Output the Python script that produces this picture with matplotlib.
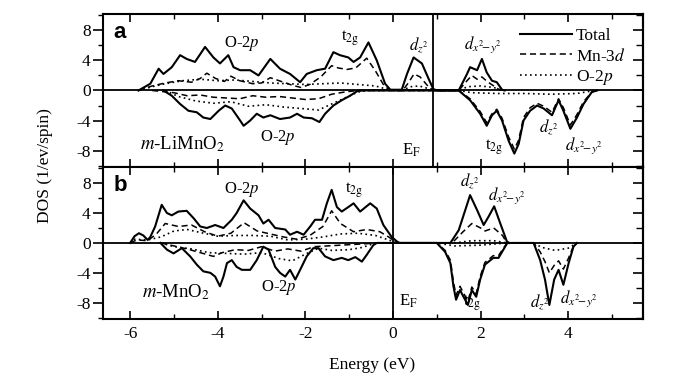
import numpy as np
import matplotlib
matplotlib.use('Agg')
import matplotlib.pyplot as plt
from matplotlib.ticker import MultipleLocator

# (energy eV, DOS) pairs, spin up / spin down
a_total_up = [(-5.81,0),(-5.54,0.9),(-5.35,2.9),(-5.24,2.2),(-5.05,3.1),(-4.86,4.7),(-4.71,4.2),(-4.52,3.8),
              (-4.29,5.8),(-4.10,4.4),(-3.95,3.6),(-3.76,4.7),(-3.64,3.1),(-3.49,2.7),(-3.26,2.7),(-3.07,2.0),
              (-2.80,4.2),(-2.58,2.9),(-2.35,2.2),(-2.12,1.1),(-1.97,2.2),(-1.74,2.7),(-1.55,2.9),(-1.36,5.1),
              (-1.21,4.7),(-1.02,4.4),(-0.90,3.8),(-0.75,4.4),(-0.56,6.4),(-0.37,4.0),(-0.18,0.9),(-0.06,0.1),
              (0.20,0.1),(0.32,2.2),(0.47,4.4),(0.66,3.6),(0.81,1.6),(0.92,0.2),(1.0,0),(1.50,0),(1.69,2.2),
              (1.76,3.1),(1.92,2.7),(2.03,4.2),(2.14,2.4),(2.26,1.3),(2.37,1.1),(2.49,0.1),(2.55,0)]
a_total_dn = [(-5.24,0),(-5.05,-0.7),(-4.86,-1.8),(-4.67,-2.7),(-4.48,-2.9),(-4.33,-3.6),(-4.17,-3.8),
              (-3.98,-2.7),(-3.83,-2.0),(-3.68,-2.4),(-3.49,-4.0),(-3.41,-4.7),(-3.26,-4.0),(-3.11,-3.1),
              (-2.96,-3.6),(-2.80,-3.3),(-2.58,-3.8),(-2.35,-3.6),(-2.19,-3.1),(-2.04,-3.6),(-1.85,-3.7),
              (-1.68,-4.2),(-1.55,-3.1),(-1.36,-2.0),(-1.17,-1.3),(-0.98,-0.7),(-0.82,-0.1),(-0.7,0),
              (1.50,0),(1.76,-1.3),(1.99,-3.1),(2.14,-4.7),(2.26,-3.3),(2.37,-2.7),(2.49,-4.0),(2.64,-6.7),
              (2.77,-8.4),(2.87,-7.1),(2.98,-4.0),(3.13,-2.7),(3.29,-2.0),(3.44,-2.4),(3.63,-3.3),(3.78,-1.3),
              (3.89,-2.7),(4.05,-5.1),(4.20,-3.6),(4.35,-1.8),(4.54,-0.2),(4.66,0)]
a_mn_up = [(-5.81,0),(-5.5,0.6),(-5.2,1.0),(-4.9,1.3),(-4.6,1.1),(-4.4,1.6),(-4.25,2.3),(-4.05,1.6),(-3.85,1.2),
           (-3.7,1.9),(-3.5,1.3),(-3.2,0.9),(-3.0,1.0),(-2.8,1.7),(-2.6,1.3),(-2.3,0.7),(-2.1,0.4),(-1.9,0.8),
           (-1.65,1.8),(-1.4,3.3),(-1.25,3.0),(-1.05,2.8),(-0.85,3.0),(-0.6,4.3),(-0.4,2.6),(-0.2,0.6),
           (-0.05,0),(0.22,0),(0.35,1.0),(0.48,2.2),(0.62,1.8),(0.78,0.7),(0.92,0),(1.5,0),(1.69,1.3),
           (1.8,2.0),(1.92,1.5),(2.03,1.8),(2.15,1.2),(2.3,0.6),(2.45,0)]
a_mn_dn = [(-5.5,0),(-5.0,-0.3),(-4.7,-0.7),(-4.4,-0.6),(-4.1,-0.9),(-3.8,-1.0),(-3.5,-1.1),(-3.2,-0.7),
           (-2.9,-0.9),(-2.6,-0.8),(-2.3,-1.0),(-2.0,-1.2),(-1.7,-1.1),(-1.4,-0.5),(-1.1,-0.2),(-0.8,0),
           (1.5,0),(1.76,-1.1),(1.99,-2.8),(2.14,-4.3),(2.26,-3.1),(2.37,-2.5),(2.49,-3.7),(2.64,-6.2),
           (2.77,-7.8),(2.87,-6.6),(2.98,-3.6),(3.13,-2.3),(3.29,-1.7),(3.44,-2.1),(3.63,-2.9),(3.78,-1.1),
           (3.89,-2.3),(4.05,-4.6),(4.20,-3.2),(4.35,-1.5),(4.54,-0.2),(4.66,0)]
a_o_up = [(-5.81,0),(-5.5,0.5),(-5.2,0.9),(-4.8,1.3),(-4.4,1.5),(-4.0,1.3),(-3.6,1.4),(-3.2,1.2),(-2.8,1.0),
          (-2.4,0.9),(-2.0,0.8),(-1.6,0.9),(-1.2,1.0),(-0.8,0.8),(-0.4,0.6),(-0.1,0.1),(0.2,0),(0.4,0.5),
          (0.6,0.6),(0.9,0.1),(1.0,0),(1.5,0),(1.7,0.5),(2.0,0.6),(2.3,0.4),(2.5,0)]
a_o_dn = [(-5.2,0),(-4.9,-0.8),(-4.5,-1.4),(-4.1,-1.7),(-3.7,-1.5),(-3.3,-2.1),(-2.9,-1.9),(-2.5,-2.2),
          (-2.1,-2.4),(-1.7,-2.6),(-1.4,-1.8),(-1.1,-1.0),(-0.8,-0.2),(-0.6,0),(1.5,0),(1.8,-0.3),
          (2.4,-0.4),(3.0,-0.4),(3.6,-0.5),(4.2,-0.4),(4.6,0)]

b_total_up = [(-6.0,0),(-5.9,0.9),(-5.8,1.3),(-5.7,1.0),(-5.6,0.4),(-5.54,0.8),(-5.43,2.2),(-5.28,5.1),
              (-5.16,4.0),(-5.05,3.7),(-4.90,4.2),(-4.71,4.3),(-4.55,3.3),(-4.40,2.2),(-4.25,2.0),(-4.06,2.4),
              (-3.87,2.0),(-3.68,3.1),(-3.57,4.0),(-3.41,5.7),(-3.26,4.6),(-3.07,3.7),(-2.96,2.6),(-2.84,3.1),
              (-2.69,2.0),(-2.46,1.8),(-2.35,1.1),(-2.19,1.5),(-2.04,1.1),(-1.89,2.2),(-1.78,3.1),(-1.62,3.1),
              (-1.51,5.3),(-1.40,7.1),(-1.28,4.8),(-1.17,4.2),(-1.02,4.8),(-0.90,5.3),(-0.75,4.2),(-0.52,5.3),
              (-0.37,4.6),(-0.22,2.4),(-0.03,0.8),(0.09,0.2),(0.15,0),(1.31,0),(1.50,1.7),(1.65,4.4),(1.76,6.4),
              (1.92,4.4),(2.07,2.4),(2.18,3.5),(2.31,4.9),(2.45,2.6),(2.60,0.2),(2.65,0)]
b_total_dn = [(-5.31,0),(-5.16,-0.9),(-5.01,-1.4),(-4.82,-0.7),(-4.63,-1.8),(-4.48,-2.9),(-4.33,-3.8),
              (-4.17,-4.0),(-4.06,-4.5),(-3.95,-5.8),(-3.87,-4.5),(-3.79,-2.7),(-3.68,-2.3),(-3.57,-3.2),
              (-3.45,-3.6),(-3.26,-3.6),(-3.11,-2.3),(-2.96,-0.5),(-2.84,-0.9),(-2.69,-3.2),(-2.58,-4.0),
              (-2.46,-4.5),(-2.35,-3.6),(-2.23,-4.9),(-2.12,-3.6),(-1.97,-1.8),(-1.82,-0.7),(-1.70,-0.7),
              (-1.55,-1.8),(-1.36,-2.3),(-1.17,-2.0),(-1.02,-2.3),(-0.86,-1.9),(-0.71,-2.5),(-0.60,-1.6),
              (-0.45,-0.3),(-0.37,0),(1.0,0),(1.19,-1.2),(1.31,-2.7),(1.38,-5.8),(1.44,-7.6),(1.53,-6.3),
              (1.61,-7.2),(1.71,-8.3),(1.80,-6.3),(1.90,-7.2),(1.99,-4.9),(2.10,-2.9),(2.29,-2.0),(2.41,-2.0),
              (2.52,-0.9),(2.61,0),(3.21,0),(3.36,-2.3),(3.47,-4.9),(3.57,-8.3),(3.68,-4.9),(3.78,-3.6),
              (3.89,-5.6),(4.01,-2.7),(4.12,-0.5),(4.20,0)]
b_mn_up = [(-6.0,0),(-5.85,0.4),(-5.6,0.3),(-5.4,1.2),(-5.2,2.6),(-4.9,2.2),(-4.6,2.4),(-4.3,1.5),(-4.0,0.9),
           (-3.7,1.3),(-3.4,2.7),(-3.1,1.6),(-2.8,1.2),(-2.5,0.8),(-2.2,0.5),(-1.9,1.0),(-1.6,2.2),(-1.4,4.3),
           (-1.2,2.6),(-0.9,1.5),(-0.6,1.8),(-0.3,1.5),(-0.1,0.8),(0.1,0),(1.35,0),(1.6,1.5),(1.8,2.6),
           (2.0,2.0),(2.1,1.6),(2.3,2.0),(2.5,1.0),(2.6,0)]
b_mn_dn = [(-5.3,0),(-5.0,-0.4),(-4.7,-0.8),(-4.4,-1.3),(-4.1,-1.8),(-3.9,-1.3),(-3.6,-0.9),(-3.3,-1.0),
           (-3.0,-0.5),(-2.7,-1.1),(-2.4,-0.8),(-2.1,-1.1),(-1.8,-0.5),(-1.5,-0.4),(-1.2,-0.3),(-0.9,-0.2),
           (-0.6,-0.1),(-0.4,0),(1.0,0),(1.19,-1.0),(1.31,-2.3),(1.38,-5.2),(1.44,-7.0),(1.53,-5.8),
           (1.61,-6.7),(1.71,-7.8),(1.80,-5.9),(1.90,-6.8),(1.99,-4.5),(2.10,-2.6),(2.29,-1.7),(2.41,-1.7),
           (2.52,-0.7),(2.61,0),(3.21,0),(3.36,-1.2),(3.47,-2.5),(3.57,-4.0),(3.68,-3.0),(3.78,-2.4),
           (3.89,-3.5),(4.01,-2.0),(4.12,-0.4),(4.20,0)]
b_o_up = [(-6.0,0),(-5.9,0.5),(-5.6,0.4),(-5.3,0.8),(-5.0,1.6),(-4.7,1.8),(-4.4,1.4),(-4.0,0.9),(-3.6,1.0),
          (-3.2,1.0),(-2.8,0.9),(-2.4,0.4),(-2.0,0.5),(-1.6,0.8),(-1.2,1.2),(-0.8,1.3),(-0.4,1.0),(-0.1,0.4),
          (0.1,0),(1.4,0),(1.8,0.3),(2.3,0.3),(2.6,0)]
b_o_dn = [(-5.3,0),(-5.0,-0.5),(-4.6,-0.8),(-4.2,-1.3),(-3.8,-1.4),(-3.4,-1.5),(-3.0,-1.3),(-2.6,-2.1),
          (-2.3,-2.4),(-2.0,-1.5),(-1.7,-0.7),(-1.4,-1.0),(-1.0,-0.9),(-0.7,-0.6),(-0.4,0),(1.0,0),(1.4,-0.4),
          (2.0,-0.3),(2.6,0),(3.2,0),(3.4,-0.6),(3.7,-1.0),(4.0,-0.7),(4.2,0)]

fermi_a = 0.92
fermi_b = 0.0

DZ2 = r'$d_{z^2}$'
DX2Y2 = r'$d_{x^2\!\!-\!y^2}$'
T2G = r't$_{\mathrm{2g}}$'
O2P = r'O-2$p$'
EF = r'E$_\mathrm{F}$'

labels_a = [(-3.45, 6.3, O2P), (-0.98, 6.9, T2G), (0.58, 6.0, DZ2), (2.05, 6.1, DX2Y2),
            (-2.62, -6.2, O2P), (0.42, -8.0, EF), (2.3, -7.6, T2G), (3.55, -4.9, DZ2), (4.35, -7.3, DX2Y2)]
labels_b = [(-3.45, 7.2, O2P), (-0.88, 7.0, T2G), (1.75, 8.2, DZ2), (2.6, 6.3, DX2Y2),
            (-2.6, -6.0, O2P), (0.36, -7.8, EF), (1.8, -8.0, T2G), (3.35, -8.0, DZ2), (4.25, -7.5, DX2Y2)]

plt.rcParams['font.family'] = 'Liberation Serif'
plt.rcParams['mathtext.fontset'] = 'stix'
plt.rcParams['axes.unicode_minus'] = False

SOLID = dict(color='black', lw=1.5, ls='-')
DASH = dict(color='black', lw=1.1, ls=(0, (4, 2.5)))
DOT = dict(color='black', lw=1.2, ls=(0, (1, 2)))


def xy(pairs):
  arr = np.array(pairs, dtype=float)
  return arr[:, 0], arr[:, 1]


def style_axes(ax, show_xlabels):
  ax.set_xlim(-6.62, 5.71)
  ax.set_ylim(-10.2, 10.15)
  ax.xaxis.set_major_locator(MultipleLocator(2))
  ax.xaxis.set_minor_locator(MultipleLocator(1))
  ax.yaxis.set_minor_locator(MultipleLocator(2))
  ax.set_yticks([-8, -4, 0, 4, 8])
  ax.tick_params(axis='x', which='both', direction='in', top=True, bottom=True,
                 labelbottom=show_xlabels, labelsize=12.5, pad=5)
  ax.tick_params(axis='x', which='major', length=6, width=1.2)
  ax.tick_params(axis='x', which='minor', length=3.5, width=1.0)
  ax.tick_params(axis='y', which='both', direction='out', labelsize=12.5, pad=2)
  ax.tick_params(axis='y', which='major', length=7, width=1.2)
  ax.tick_params(axis='y', which='minor', length=3.5, width=1.0)
  sec = ax.secondary_yaxis('right')
  sec.yaxis.set_major_locator(MultipleLocator(4))
  sec.yaxis.set_minor_locator(MultipleLocator(2))
  sec.tick_params(axis='y', which='both', direction='in', labelright=False)
  sec.tick_params(axis='y', which='major', length=7, width=1.2)
  sec.tick_params(axis='y', which='minor', length=5, width=1.0)
  for sp in list(ax.spines.values()) + [sec.spines['right']]:
    sp.set_linewidth(1.5)


def draw_panel(ax, series, fermi, labels, tag, compound, compound_pos):
  total_up, total_dn, mn_up, mn_dn, o_up, o_dn = series
  ax.axhline(0, color='black', lw=1.3)
  ax.axvline(fermi, color='black', lw=1.3)
  ax.plot(*xy(total_up), label='Total', **SOLID)
  ax.plot(*xy(total_dn), **SOLID)
  ax.plot(*xy(mn_up), label=r'Mn-3$d$', **DASH)
  ax.plot(*xy(mn_dn), **DASH)
  ax.plot(*xy(o_up), label=r'O-2$p$', **DOT)
  ax.plot(*xy(o_dn), **DOT)
  for x, y, s in labels:
    ax.text(x, y, s, fontsize=12, ha='center', va='center')
  ax.text(0.02, 0.95, tag, transform=ax.transAxes, fontsize=16, fontweight='bold',
          family='Liberation Sans', ha='left', va='top')
  ax.text(compound_pos[0], compound_pos[1], compound, fontsize=13.5, ha='center', va='center')


def main():
  fig = plt.figure(figsize=(6.96, 3.85), dpi=100)
  ax_a = fig.add_axes([0.148, 0.566, 0.776, 0.397])
  ax_b = fig.add_axes([0.148, 0.171, 0.776, 0.395])

  draw_panel(ax_a, [a_total_up, a_total_dn, a_mn_up, a_mn_dn, a_o_up, a_o_dn], fermi_a, labels_a,
             'a', r'$m$-LiMnO$_2$', (-4.8, -7.2))
  draw_panel(ax_b, [b_total_up, b_total_dn, b_mn_up, b_mn_dn, b_o_up, b_o_dn], fermi_b, labels_b,
             'b', r'$m$-MnO$_2$', (-4.95, -6.6))
  style_axes(ax_a, False)
  style_axes(ax_b, True)

  ax_a.legend(loc='upper right', bbox_to_anchor=(0.99, 0.99), frameon=False, fontsize=12.5,
              handlelength=3.0, labelspacing=0.2, handletextpad=0.2, borderpad=0.2)

  fig.text(0.065, 0.571, 'DOS (1/ev/spin)', rotation=90, ha='center', va='center', fontsize=12.5)
  fig.text(0.535, 0.052, 'Energy (eV)', ha='center', va='center', fontsize=12.5)
  fig.savefig('out.png', dpi=100)
  plt.close(fig)


if __name__ == '__main__':
  main()
